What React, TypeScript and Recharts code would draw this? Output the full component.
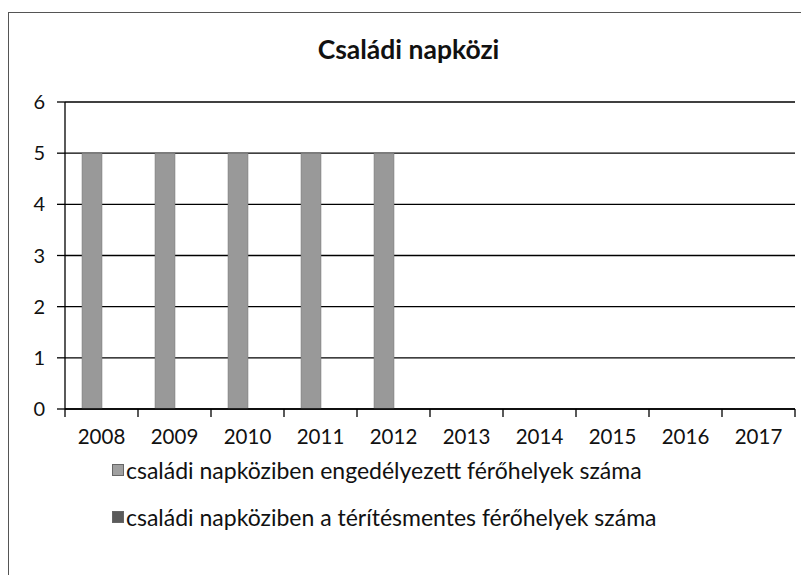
import { BarChart, Bar, XAxis, YAxis, CartesianGrid, Legend } from 'recharts';

const years = ['2008', '2009', '2010', '2011', '2012', '2013', '2014', '2015', '2016', '2017'];
const engedelyezett = [5, 5, 5, 5, 5, 0, 0, 0, 0, 0];
const teritesmentes = [0, 0, 0, 0, 0, 0, 0, 0, 0, 0];
const yTicks = [0, 1, 2, 3, 4, 5, 6];

const seriesNames = [
  'családi napköziben engedélyezett férőhelyek száma',
  'családi napköziben a térítésmentes férőhelyek száma',
];

const data = years.map((y, i) => ({
  year: y,
  eng: engedelyezett[i],
  ter: teritesmentes[i],
}));

const W = 801;
const H = 567;
const M = { top: 94, right: 14, left: 0, bottom: 0 };
const Y_W = 57;
const PLOT_W = W - M.left - M.right - Y_W;
const FONT = 'Lato, "Open Sans", sans-serif';

const XTick = (props: any) => {
  const { x, y, payload, index } = props;
  const bw = PLOT_W / years.length;
  const top = y - 14;
  return (
    <g>
      <line x1={x - bw / 2} x2={x - bw / 2} y1={top} y2={top + 8} stroke="#000" strokeWidth={1.3} />
      {index === years.length - 1 && (
        <line x1={x + bw / 2} x2={x + bw / 2} y1={top} y2={top + 8} stroke="#000" strokeWidth={1.3} />
      )}
      <text x={x} y={y} dy={21} textAnchor="middle" fill="#111" fontSize={20.5} fontFamily={FONT}>
        {payload.value}
      </text>
    </g>
  );
};

const LegendContent = () => (
  <div style={{ fontFamily: FONT, fontSize: 23, color: '#111' }}>
    {seriesNames.map((n, i) => (
      <div key={n} style={{ display: 'flex', alignItems: 'center', height: 47, whiteSpace: 'nowrap' }}>
        <span
          style={{
            width: 10,
            height: 10,
            background: i === 0 ? '#a0a0a0' : '#5a5a5a',
            border: '1px solid #666',
            marginRight: 2,
            display: 'inline-block',
            flex: 'none',
          }}
        />
        {n}
      </div>
    ))}
  </div>
);

export default function App() {
  return (
    <div style={{ position: 'relative', width: W, height: H, background: '#fff' }}>
      <div
        style={{
          position: 'absolute',
          left: 0,
          top: 4,
          width: W,
          height: H,
          borderTop: '1.5px solid #555',
          borderLeft: '1.5px solid #555',
          boxSizing: 'border-box',
        }}
      />
      <div
        style={{
          position: 'absolute',
          top: 25,
          left: 0,
          width: W,
          textAlign: 'center',
          fontFamily: FONT,
          fontWeight: 'bold',
          fontSize: 26.5,
          color: '#111',
        }}
      >
        Családi napközi
      </div>
      <div style={{ position: 'absolute', left: 0, top: 0 }}>
        <BarChart width={W} height={H} data={data} margin={M} barGap={0} barSize={20}>
          <CartesianGrid vertical={false} stroke="#000" strokeWidth={1.3} />
          <XAxis
            dataKey="year"
            height={166}
            tickLine={false}
            tickSize={8}
            tickMargin={6}
            axisLine={{ stroke: '#000', strokeWidth: 1.3 }}
            tick={<XTick />}
            interval={0}
          />
          <YAxis
            width={Y_W}
            domain={[0, 6]}
            ticks={yTicks}
            interval={0}
            tickSize={8}
            tickMargin={12}
            tickLine={{ stroke: '#000', strokeWidth: 1.3 }}
            axisLine={{ stroke: '#000', strokeWidth: 1.3 }}
            tick={{ fill: '#111', fontSize: 20, fontFamily: FONT }}
          />
          <Legend
            content={<LegendContent />}
            wrapperStyle={{ position: 'absolute', left: 104, top: 438, width: 650, height: 0, overflow: 'visible' }}
          />
          <Bar dataKey="eng" name={seriesNames[0]} fill="#999" stroke="#777" strokeWidth={0.5} isAnimationActive={false} />
          <Bar dataKey="ter" name={seriesNames[1]} fill="#5a5a5a" isAnimationActive={false} />
        </BarChart>
      </div>
    </div>
  );
}
